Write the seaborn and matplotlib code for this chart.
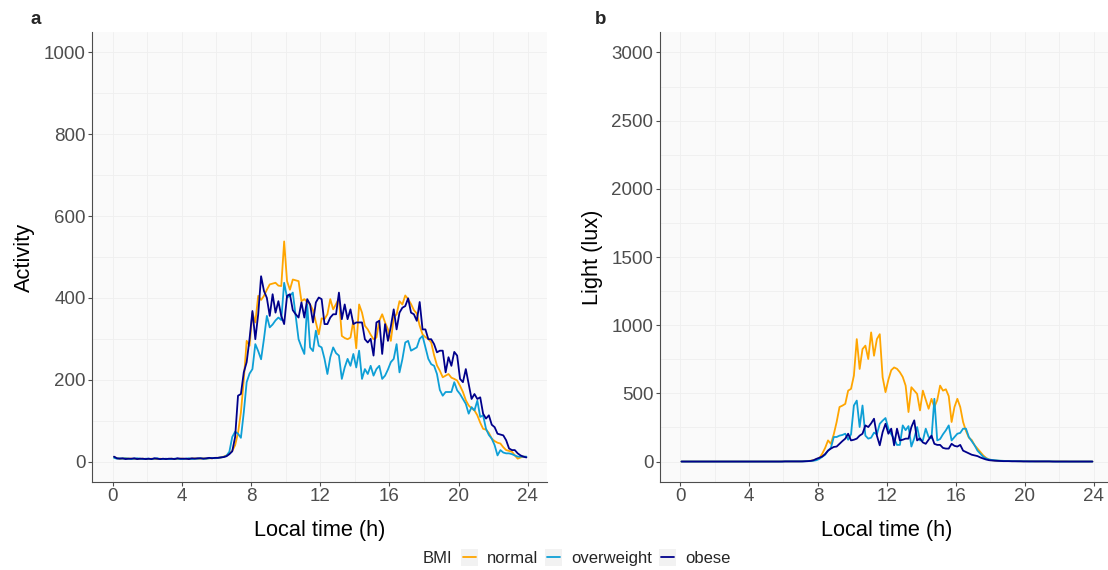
import numpy as np
import pandas as pd
import matplotlib
matplotlib.use("Agg")
import matplotlib.pyplot as plt
from matplotlib.patches import Rectangle
from matplotlib.lines import Line2D
from matplotlib.ticker import MultipleLocator
import seaborn as sns

W, H = 1108, 570

groups = ["normal", "overweight", "obese"]
colours = {"normal": "#FFA500", "overweight": "#0E9FD6", "obese": "#00008B"}

# 10-minute bins, plotted at the bin midpoint (hours)
hours = (np.arange(144) + 0.5) / 6

### Activity (panel a), one row per hour ###
activity_normal = [
    11, 8, 7, 7, 8, 7,  7, 6, 7, 6, 7, 6,  6, 7, 6, 6, 7, 6,  6, 6, 7, 6, 6, 7,
    7, 6, 7, 7, 8, 7,  7, 8, 7, 8, 8, 9,  9, 10, 12, 15, 20, 26,
    40, 70, 120, 200, 295, 283,
    364, 340, 405, 395, 405, 420,
    433, 435, 437, 430, 429, 538,
    441, 420, 445, 443, 441, 392,
    397, 390, 384, 370, 340, 311,
    350, 348, 360, 397, 372, 385,
    399, 307, 302, 299, 303, 344,
    277, 384, 364, 332, 323, 310,
    299, 303, 344, 360, 340, 323,
    295, 352, 360, 392, 384, 406,
    397, 385, 370, 362, 332, 311,
    304, 300, 291, 260, 235, 222,
    206, 210, 214, 205, 202, 198,
    185, 170, 150, 137, 130, 125,
    113, 95, 80, 78, 70, 56,
    50, 46, 44, 35, 28, 26,
    24, 15, 7, 10, 12, 11,
]
activity_overweight = [
    9, 7, 8, 7, 8, 7,  6, 7, 8, 7, 6, 7,  7, 6, 7, 8, 6, 6,  7, 6, 6, 7, 7, 6,
    6, 7, 8, 6, 7, 7,  8, 7, 7, 8, 9, 8,  9, 10, 11, 14, 24, 60,
    73, 68, 58, 120, 194, 215,
    226, 287, 270, 250, 300, 356,
    328, 335, 345, 352, 346, 437,
    401, 405, 413, 356, 299, 280,
    263, 384, 279, 270, 320, 283,
    279, 251, 214, 255, 279, 265,
    259, 202, 230, 251, 234, 263,
    230, 271, 202, 226, 214, 234,
    210, 226, 234, 202, 210, 225,
    243, 251, 287, 218, 250, 291,
    295, 271, 275, 279, 300, 307,
    279, 251, 238, 234, 214, 175,
    161, 170, 170, 170, 194, 174,
    165, 153, 141, 117, 133, 125,
    149, 109, 113, 80, 65, 56,
    40, 15, 28, 22, 20, 20,
    18, 15, 12, 12, 12, 12,
]
activity_obese = [
    12, 8, 7, 8, 6, 7,  7, 8, 6, 7, 7, 6,  7, 6, 8, 7, 6, 7,  6, 7, 7, 6, 8, 7,
    7, 7, 6, 8, 7, 8,  8, 7, 8, 9, 8, 9,  9, 10, 11, 13, 18, 25,
    60, 161, 165, 218, 243, 300,
    368, 299, 360, 453, 417, 400,
    356, 409, 364, 392, 356, 336,
    405, 409, 370, 360, 352, 389,
    352, 397, 384, 340, 389, 401,
    397, 336, 336, 352, 360, 360,
    413, 348, 384, 348, 372, 336,
    340, 340, 340, 299, 291, 300,
    259, 340, 344, 263, 336, 295,
    330, 372, 323, 364, 376, 380,
    399, 364, 360, 344, 390, 323,
    323, 299, 299, 287, 267, 271,
    271, 218, 255, 234, 268, 259,
    202, 194, 226, 190, 153, 165,
    153, 157, 117, 105, 113, 90,
    84, 68, 66, 64, 52, 32,
    28, 28, 20, 15, 12, 10,
]

### Light (panel b), one row per hour ###
light_normal = [
    0, 0, 0, 0, 0, 0,  0, 0, 0, 0, 0, 0,  0, 0, 0, 0, 0, 0,  0, 0, 0, 0, 0, 0,
    0, 0, 0, 0, 0, 0,  0, 0, 0, 0, 0, 1,  1, 1, 1, 1, 1, 1,
    2, 3, 4, 6, 10, 18,
    25, 58, 100, 155, 130, 200,
    290, 400, 410, 423, 520, 533,
    630, 898, 679, 825, 850, 752,
    947, 776, 898, 934, 618, 509,
    600, 670, 690, 680, 655, 620,
    557, 363, 545, 520, 496, 375,
    520, 453, 387, 460, 400, 450,
    557, 520, 530, 480, 290, 400,
    460, 400, 290, 225, 175, 158,
    120, 95, 70, 45, 27, 15,
    10, 8, 6, 5, 5, 4,
    4, 3, 3, 3, 2, 2,
    2, 2, 2, 1, 1, 1,
    1, 1, 1, 1, 1, 1,
    1, 1, 1, 0, 0, 0,
    0, 0, 0, 0, 0, 0,
]
light_overweight = [
    0, 0, 0, 0, 0, 0,  0, 0, 0, 0, 0, 0,  0, 0, 0, 0, 0, 0,  0, 0, 0, 0, 0, 0,
    0, 0, 0, 0, 0, 0,  0, 0, 0, 0, 0, 0,  1, 1, 1, 1, 1, 1,
    1, 2, 3, 4, 6, 10,
    20, 35, 50, 80, 100, 180,
    180, 190, 195, 204, 160, 200,
    411, 447, 253, 411, 190, 168,
    175, 212, 200, 277, 300, 319,
    241, 200, 168, 122, 122, 265,
    230, 260, 110, 170, 253, 155,
    155, 241, 180, 170, 460, 155,
    165, 200, 229, 265, 155, 180,
    204, 210, 241, 241, 180, 150,
    119, 80, 58, 35, 22, 15,
    12, 10, 8, 6, 5, 4,
    3, 3, 3, 2, 2, 2,
    2, 1, 1, 1, 1, 1,
    1, 1, 1, 1, 0, 0,
    0, 0, 0, 0, 0, 0,
    0, 0, 0, 0, 0, 0,
]
light_obese = [
    0, 0, 0, 0, 0, 0,  0, 0, 0, 0, 0, 0,  0, 0, 0, 0, 0, 0,  0, 0, 0, 0, 0, 0,
    0, 0, 0, 0, 0, 0,  0, 0, 0, 0, 0, 0,  1, 1, 1, 1, 1, 1,
    1, 2, 3, 5, 10, 20,
    28, 37, 55, 80, 95, 107,
    110, 130, 150, 168, 204, 155,
    160, 168, 190, 204, 265, 253,
    280, 314, 190, 119, 216, 277,
    204, 241, 119, 241, 155, 160,
    168, 168, 253, 302, 155, 170,
    140, 130, 160, 190, 130, 122,
    122, 100, 95, 95, 130, 115,
    110, 122, 80, 70, 60, 50,
    45, 40, 30, 22, 15, 10,
    8, 6, 5, 4, 3, 3,
    3, 2, 2, 2, 2, 1,
    1, 1, 1, 1, 1, 1,
    1, 1, 1, 0, 0, 0,
    0, 0, 0, 0, 0, 0,
    0, 0, 0, 0, 0, 0,
]


def long_table(series, name):
    frames = []
    for g, vals in zip(groups, series):
        frames.append(pd.DataFrame({"time": hours, name: vals, "BMI": g}))
    return pd.concat(frames, ignore_index=True)


act_df = long_table([activity_normal, activity_overweight, activity_obese], "activity")
light_df = long_table([light_normal, light_overweight, light_obese], "light")

sns.set_theme(style="white")
plt.rcParams["font.family"] = ["Liberation Sans", "DejaVu Sans"]

fig = plt.figure(figsize=(W / 100, H / 100), dpi=100)


def px_box(left, top, right, bottom):
    return [left / W, 1 - bottom / H, (right - left) / W, (bottom - top) / H]


def style_axes(ax, ymax, ystep, ylabel):
    ax.set_facecolor("#FAFAFA")
    ax.set_xlim(-1.19, 25.11)
    ax.set_ylim(-0.05 * ymax, 1.05 * ymax)
    ax.xaxis.set_major_locator(MultipleLocator(4))
    ax.xaxis.set_minor_locator(MultipleLocator(2))
    ax.yaxis.set_major_locator(MultipleLocator(ystep))
    ax.yaxis.set_minor_locator(MultipleLocator(ystep / 2))
    ax.grid(True, which="both", color="#EFEFEF", linewidth=0.6)
    ax.set_axisbelow(True)
    for side in ["top", "right"]:
        ax.spines[side].set_visible(False)
    for side in ["left", "bottom"]:
        ax.spines[side].set_color("#4D4D4D")
        ax.spines[side].set_linewidth(0.8)
    ax.tick_params(which="major", length=3, width=0.8, color="#4D4D4D",
                   labelcolor="#4D4D4D", labelsize=13.5, pad=1.5,
                   left=True, bottom=True)
    ax.tick_params(which="minor", length=0)
    ax.set_xlabel("Local time (h)", fontsize=15.7, color="black")
    ax.set_ylabel(ylabel, fontsize=15.7, color="black")
    ax.xaxis.set_label_coords(0.5, -0.085)


ax_a = fig.add_axes(px_box(92, 32, 547, 482))
sns.lineplot(data=act_df, x="time", y="activity", hue="BMI", hue_order=groups,
             palette=colours, linewidth=1.3, legend=False, ax=ax_a)
style_axes(ax_a, 1000, 200, "Activity")
ax_a.yaxis.set_label_coords(-0.125, 0.5)

ax_b = fig.add_axes(px_box(659.5, 32, 1113, 482))
sns.lineplot(data=light_df, x="time", y="light", hue="BMI", hue_order=groups,
             palette=colours, linewidth=1.3, legend=False, ax=ax_b)
style_axes(ax_b, 3000, 500, "Light (lux)")
ax_b.yaxis.set_label_coords(-0.125, 0.5)

# panel tags
fig.text(36 / W, 1 - 19 / H, "a", fontsize=13.5, fontweight="bold", ha="center", va="center")
fig.text(601 / W, 1 - 19 / H, "b", fontsize=13.5, fontweight="bold", ha="center", va="center")

# legend at the bottom, drawn like ggplot keys
ly = 1 - 557 / H
fig.text(423 / W, ly, "BMI", fontsize=12, ha="left", va="center_baseline")
keys = [(461, "normal"), (545, "overweight"), (659, "obese")]
for x0, g in keys:
    fig.patches.append(Rectangle((x0 / W, 1 - 566 / H), 17 / W, 17 / H,
                                 transform=fig.transFigure, facecolor="#F2F2F2",
                                 edgecolor="none"))
    fig.lines.append(Line2D([(x0 + 2) / W, (x0 + 15) / W], [ly, ly],
                            transform=fig.transFigure, color=colours[g], linewidth=1.3))
    fig.text((x0 + 26) / W, ly, g, fontsize=12, ha="left", va="center_baseline")

fig.savefig("out.png", dpi=100)
